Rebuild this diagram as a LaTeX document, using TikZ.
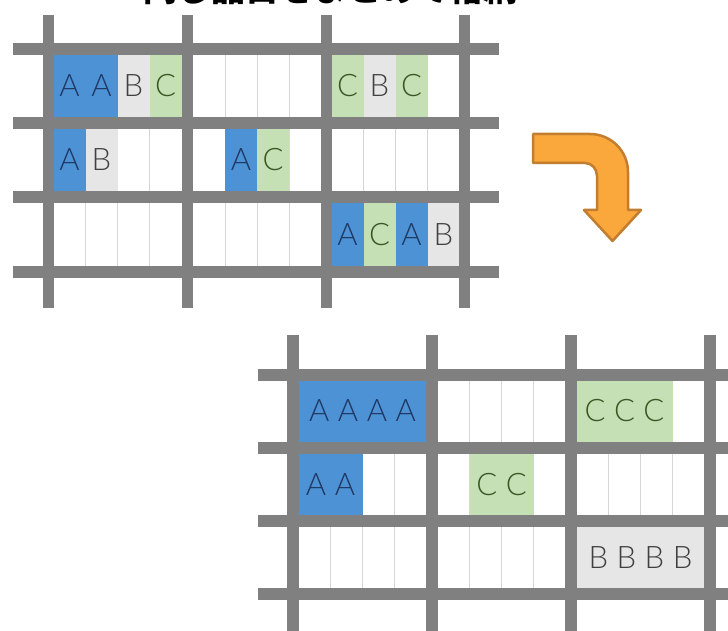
\documentclass[tikz,border=0pt]{standalone}
\usepackage{fontspec}
\newfontfamily\slotfont{Lato Light}
\newfontfamily\jpfont{Noto Sans CJK JP}
\definecolor{bargray}{HTML}{808080}
\definecolor{linegray}{HTML}{D6D6D6}
\definecolor{blueA}{HTML}{4E92D6}
\definecolor{blueT}{HTML}{1F3864}
\definecolor{grayB}{HTML}{E7E6E6}
\definecolor{grayT}{HTML}{404040}
\definecolor{greenC}{HTML}{C5E0B4}
\definecolor{greenT}{HTML}{385723}
\definecolor{arrowfill}{HTML}{FAA73C}
\definecolor{arrowline}{HTML}{C27D2E}
\newcommand\lgap{\kern 8.5pt}
\begin{document}
\begin{tikzpicture}[x=1pt,y=-1pt,
  bar/.style={fill=bargray},
  slotline/.style={draw=linegray, line width=0.7pt},
  cell/.style={draw=none, inner sep=0pt, outer sep=0pt, anchor=north west,
    font=\slotfont\fontsize{31}{31}\selectfont},
  cellA/.style={cell, fill=blueA, text=blueT},
  cellB/.style={cell, fill=grayB, text=grayT},
  cellC/.style={cell, fill=greenC, text=greenT},
  turnarrow/.style={fill=arrowfill, draw=arrowline, line width=2.5pt, line join=round}]
\useasboundingbox (0,0) rectangle (728,631);

% heading, cut by the upper edge
\begin{scope}
  \clip (0,0) rectangle (728,631);
  \node[anchor=base, inner sep=0pt, font=\jpfont\bfseries\fontsize{34}{34}\selectfont]
    (heading) at (330,1.5) {同じ品目をまとめて格納};
\end{scope}

% ---------- upper rack: mixed storage ----------
\foreach \cx in {53.5,193,331.5}
  \foreach \ya/\yb in {55/117,129/191.5,203.5/265.5}
    \foreach \k in {1,2,3}
      \draw[slotline] (\cx+32*\k,\ya) -- (\cx+32*\k,\yb);

\foreach \nm/\cx/\ya/\st/\t in {
    u1/53.5/55/cellA/A, u2/85.5/55/cellA/A, u3/117.5/55/cellB/B, u4/149.5/55/cellC/C,
    u5/331.5/55/cellC/C, u6/363.5/55/cellB/B, u7/395.5/55/cellC/C,
    u8/53.5/129/cellA/A, u9/85.5/129/cellB/B,
    u10/225/129/cellA/A, u11/257/129/cellC/C,
    u12/331.5/203.5/cellA/A, u13/363.5/203.5/cellC/C, u14/395.5/203.5/cellA/A, u15/427.5/203.5/cellB/B}
  \node[\st, minimum width=32pt, minimum height=62pt] (\nm) at (\cx,\ya) {\t};

\foreach \y in {49,123,197.5,271.5}
  \fill[bar] (13,\y-6) rectangle (499,\y+6);
\foreach \x in {48,187.5,326,464.5}
  \fill[bar] (\x-5.5,15) rectangle (\x+5.5,308);

% ---------- turning arrow ----------
\draw[turnarrow] (533,134) -- (590,134) .. controls (611,134) and (628,151) .. (628,172)
  -- (628,210) -- (641,210) -- (612.5,241) -- (584,210) -- (597,210) -- (597,176)
  .. controls (597,169) and (592,163) .. (585,163) -- (533,163) -- cycle;

% ---------- lower rack: sorted storage ----------
\foreach \cx in {298.5,437.5,576.5}
  \foreach \ya/\yb in {380.5/441.5,453.5/515,527/587.5}
    \foreach \k in {1,2,3}
      \draw[slotline] (\cx+32*\k,\ya) -- (\cx+32*\k,\yb);

\node[cellA, minimum width=128pt, minimum height=61pt] (l1) at (298.5,380.5) {A\lgap A\lgap A\lgap A};
\node[cellC, minimum width=96pt, minimum height=61pt] (l2) at (576.5,380.5) {C\lgap C\lgap C};
\node[cellA, minimum width=64pt, minimum height=61.5pt] (l3) at (298.5,453.5) {A\lgap A};
\node[cellC, minimum width=64pt, minimum height=61.5pt] (l4) at (469.5,453.5) {C\lgap C};
\node[cellB, minimum width=128pt, minimum height=60.5pt] (l5) at (576.5,527) {B\lgap B\lgap B\lgap B};

\foreach \y in {374.5,447.5,521,593.5}
  \fill[bar] (258,\y-6) rectangle (730,\y+6);
\foreach \x in {293,432,571,709.5}
  \fill[bar] (\x-6,335) rectangle (\x+6,633);
\end{tikzpicture}
\end{document}
